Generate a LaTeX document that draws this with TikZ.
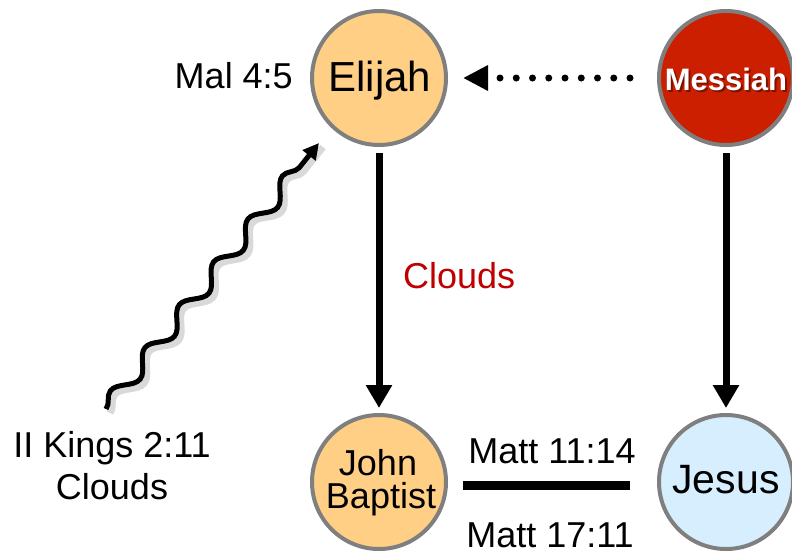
\documentclass[tikz,border=0pt]{standalone}
\usepackage{fontspec}
\setmainfont{Liberation Sans}
\usetikzlibrary{arrows.meta,decorations.pathmorphing}
\definecolor{elijahfill}{HTML}{FFCF86}
\definecolor{messiahfill}{HTML}{CC1F00}
\definecolor{jesusfill}{HTML}{D6EEFD}
\definecolor{ringgray}{HTML}{7F7F7F}
\definecolor{cloudred}{HTML}{C00000}
\begin{document}
\begin{tikzpicture}[x=1pt,y=-1pt,
  person/.style={circle, draw=ringgray, line width=4pt, minimum size=134pt, inner sep=0pt},
  txt/.style={font=\fontsize{36}{36}\selectfont, inner sep=0pt, anchor=base},
  link/.style={line width=7pt, -{Triangle[length=23pt,width=25pt]}},
  dotline/.style={line width=7pt, line cap=round, dash pattern=on 0pt off 16.25pt,
     shorten <=27pt, shorten >=15pt, -{Triangle[length=25pt,width=24pt]}},
  bar/.style={line width=9pt},
  wavedeco/.style={decorate,
     decoration={snake, amplitude=8pt, segment length=55pt, post length=22pt}},
  wave/.style={wavedeco, line width=5pt, -{Triangle[length=16pt,width=16pt]}},
  waveshadow/.style={wavedeco, line width=7pt, black, opacity=0.15}
]
\useasboundingbox (0,0) rectangle (792,552);

% circles
\node[person, fill=elijahfill] (elijah) at (379,78) {};
\node[person, fill=messiahfill] (messiah) at (726,78) {};
\node[person, fill=elijahfill] (john) at (379,482) {};
\node[person, fill=jesusfill] (jesus) at (726,482) {};

% circle texts
\node[txt, font=\fontsize{42}{42}\selectfont] at (380,91) {Elijah};
\node[txt, font=\bfseries\fontsize{31}{31}\selectfont, text=black, opacity=0.4] at (728,92) {Messiah};
\node[txt, font=\bfseries\fontsize{31}{31}\selectfont, text=white] at (726,90) {Messiah};
\node[txt] at (378,475) {John};
\node[txt] at (381,508) {Baptist};
\node[txt, font=\fontsize{41}{41}\selectfont] at (726,493) {Jesus};

% connectors
\draw[dotline] (messiah.west) -- (elijah.east);
\draw[link, shorten <=6pt, shorten >=5pt] (elijah) -- (john);
\draw[link, shorten <=6pt, shorten >=5pt] (messiah) -- (jesus);
\draw[bar, shorten <=15pt, shorten >=27pt] ([yshift=-3pt]john.east) -- ([yshift=-3pt]jesus.west);

% wavy arrow
\coordinate (wstart) at (106,409);
\coordinate (wend) at (319,143);
\draw[waveshadow] ([shift={(4,4)}]wstart) -- ([shift={(4,4)}]wend);
\draw[wave] (wstart) -- (wend);

% labels
\node[txt, anchor=base east] at (293,88) {Mal 4:5};
\node[txt, anchor=base west, text=cloudred] at (403,288) {Clouds};
\node[txt] at (112,457) {II Kings 2:11};
\node[txt] at (112,499) {Clouds};
\node[txt] at (552,463) {Matt 11:14};
\node[txt] at (550,547) {Matt 17:11};
\end{tikzpicture}
\end{document}
